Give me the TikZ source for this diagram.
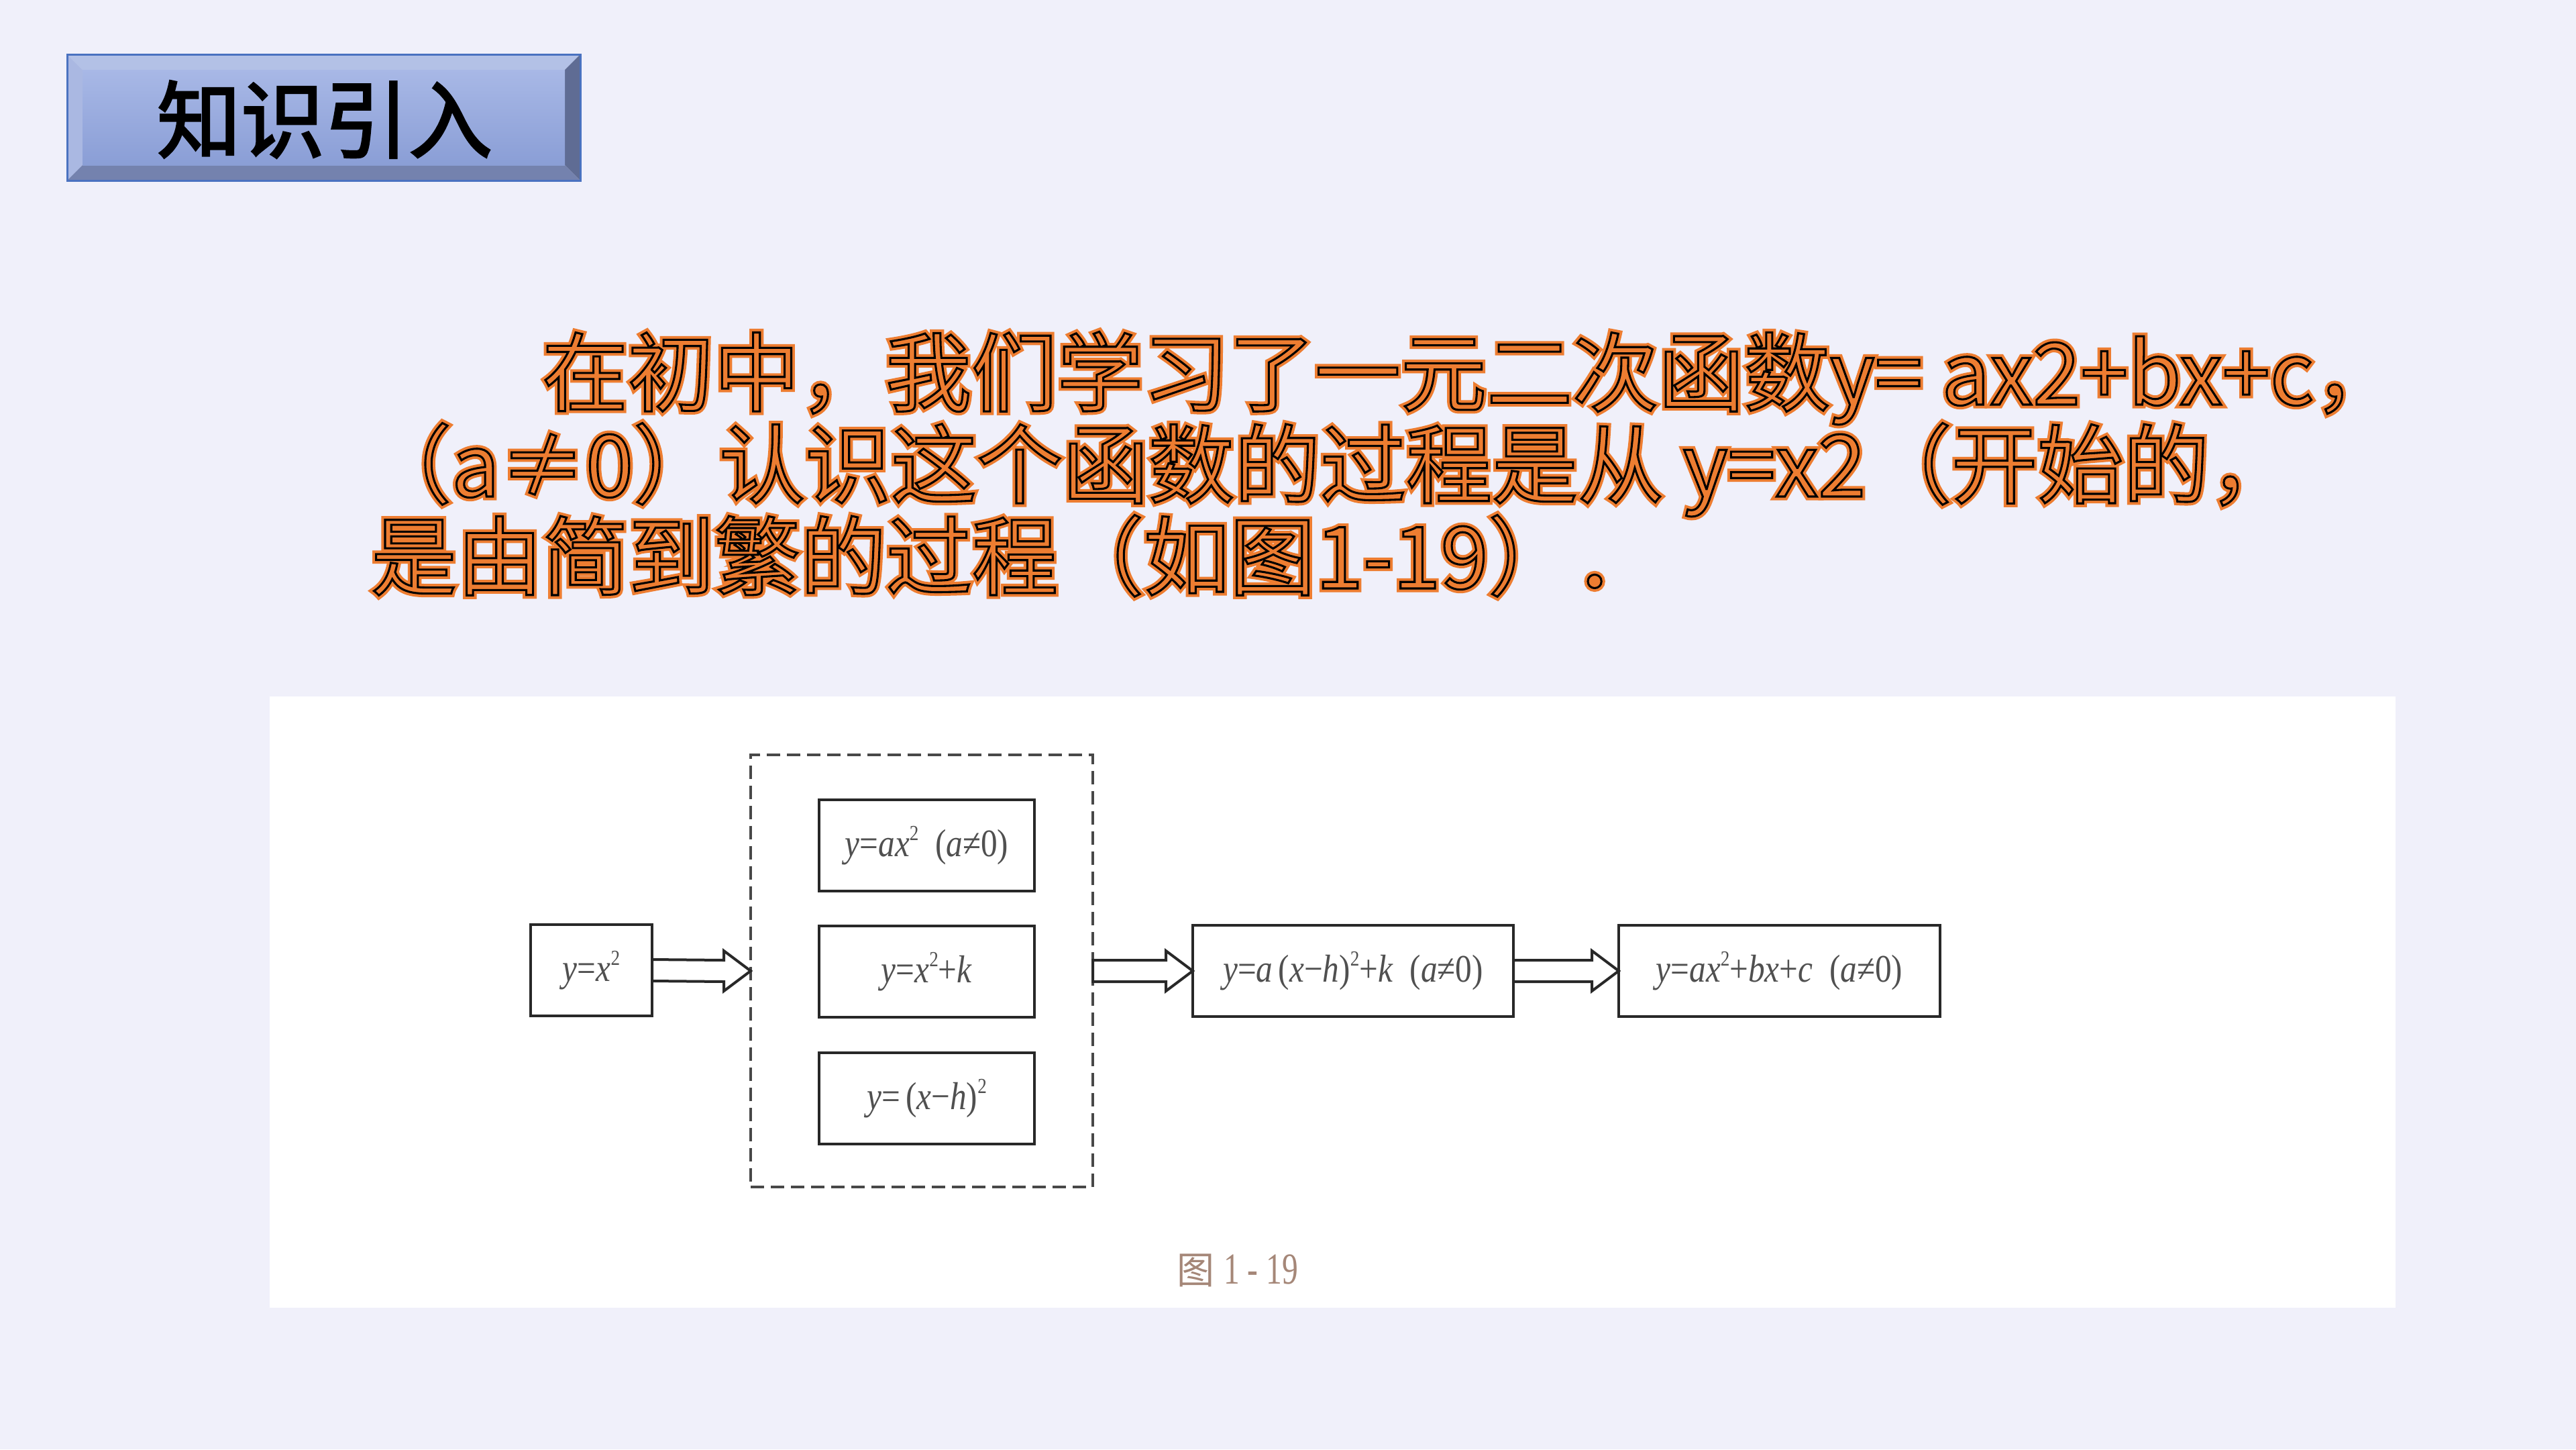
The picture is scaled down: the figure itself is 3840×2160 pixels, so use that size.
\documentclass[tikz,border=0pt]{standalone}
\usepackage{fontspec}
\usepackage{graphicx}
\setmainfont{Liberation Serif}
\newfontfamily\cjk{Noto Sans CJK SC}
\newfontfamily\cjktitle{Noto Sans CJK SC}[FakeBold=2.5]
\newfontfamily\cjkhalo{Noto Sans CJK SC}[FakeBold=8.6]
\newfontfamily\cjkedge{Noto Sans CJK SC}[FakeBold=2.4]
\definecolor{bgC}{RGB}{240,240,250}
\definecolor{orangeC}{RGB}{237,125,49}
\definecolor{tTop}{RGB}{179,193,230}
\definecolor{tLeft}{RGB}{170,184,226}
\definecolor{tBot}{RGB}{116,130,174}
\definecolor{tRight}{RGB}{95,108,148}
\definecolor{tFaceA}{RGB}{168,184,230}
\definecolor{tFaceB}{RGB}{138,158,214}
\definecolor{tEdge}{RGB}{74,114,192}
\definecolor{boxC}{RGB}{40,40,40}
\definecolor{formC}{RGB}{80,80,80}
\definecolor{capC}{RGB}{165,135,120}
\newcommand\fm[1]{\scalebox{0.85}[1]{#1}}
\newcommand\sq{\raisebox{0.42em}{\fontsize{32}{32}\selectfont 2}}
\newcommand\glowline[3]{%
  \node[ptext,font=\cjkhalo\fontsize{128}{128}\selectfont,name=#1h] at (#2) {#3};%
  \node[ptext,font=\cjkedge\fontsize{128}{128}\selectfont,name=#1] at (#2) {\special{pdf:code 0 0 0 RG}#3};}
\begin{document}
\begin{tikzpicture}[x=1pt,y=-1pt,
  ptext/.style={anchor=base west,inner sep=0pt,outer sep=0pt,text=orangeC},
  fbox/.style={draw=boxC,line width=4pt,fill=white,inner sep=0pt,outer sep=0pt,minimum height=136pt,
    text=formC,font=\fontsize{58}{58}\selectfont},
  harrow/.style={draw=boxC,line width=4pt,fill=white,line join=miter},
  dbox/.style={draw=boxC!85,line width=4pt,dash pattern=on 20pt off 10pt,inner sep=0pt,outer sep=0pt}]
\useasboundingbox (0,0) rectangle (3840,2160);
\fill[bgC] (0,0) rectangle (3840,2160);
% title bevel box
\fill[tTop] (100,81) -- (865,81) -- (842,104) -- (123,104) -- cycle;
\fill[tLeft] (100,81) -- (123,104) -- (123,246) -- (100,269) -- cycle;
\fill[tBot] (100,269) -- (123,246) -- (842,246) -- (865,269) -- cycle;
\fill[tRight] (865,81) -- (865,269) -- (842,246) -- (842,104) -- cycle;
\shade[top color=tFaceA,bottom color=tFaceB] (123,104) rectangle (842,246);
\draw[tEdge,line width=3pt] (100,81) rectangle (865,269);
\node[font=\cjktitle\fontsize{125}{125}\selectfont,text=black,inner sep=0pt] (title) at (484,178) {知识引入};
% orange paragraph
\coordinate (p1) at (808,603);
\coordinate (p2) at (545,740);
\coordinate (p3) at (553,877);
\glowline{l1}{p1}{在初中，我们学习了一元二次函数y= ax2+bx+c，}
\glowline{l2}{p2}{（a≠0）认识这个函数的过程是从 y=x2（开始的，}
\glowline{l3}{p3}{是由简到繁的过程（如图1-19）．}
% figure panel
\fill[white] (402,1038) rectangle (3571,1949);
\node[fbox,minimum width=181pt] (b1) at (881.5,1446) {\fm{\textit{y}=\textit{x}\sq}};
\node[dbox,minimum width=510pt,minimum height=644pt] (grp) at (1374,1447) {};
\node[fbox,minimum width=321pt] (b2a) at (1381.5,1260) {\fm{\textit{y}=\textit{ax}\sq\hspace{0.5em}(\textit{a}≠0)}};
\node[fbox,minimum width=321pt] (b2b) at (1381.5,1448) {\fm{\textit{y}=\textit{x}\sq+\textit{k}}};
\node[fbox,minimum width=321pt] (b2c) at (1381.5,1637) {\fm{\textit{y}=\,(\textit{x}−\textit{h})\sq}};
\node[fbox,minimum width=478pt] (b4) at (2017,1447) {\fm{\textit{y}=\textit{a}\,(\textit{x}−\textit{h})\sq+\textit{k}\hspace{0.5em}(\textit{a}≠0)}};
\node[fbox,minimum width=479pt] (b5) at (2652.5,1447) {\fm{\textit{y}=\textit{ax}\sq+\textit{bx}+\textit{c}\hspace{0.5em}(\textit{a}≠0)}};
% hollow arrows
\draw[harrow] ([yshift=-16pt]b1.east) -- ([xshift=-40pt,yshift=-16pt]grp.west) -- ([xshift=-40pt,yshift=-30pt]grp.west)
  -- (grp.west) -- ([xshift=-40pt,yshift=30pt]grp.west) -- ([xshift=-40pt,yshift=16pt]grp.west) -- ([yshift=16pt]b1.east) -- cycle;
\draw[harrow] ([yshift=-16pt]grp.east) -- ([xshift=-40pt,yshift=-16pt]b4.west) -- ([xshift=-40pt,yshift=-30pt]b4.west)
  -- (b4.west) -- ([xshift=-40pt,yshift=30pt]b4.west) -- ([xshift=-40pt,yshift=16pt]b4.west) -- ([yshift=16pt]grp.east) -- cycle;
\draw[harrow] ([yshift=-16pt]b4.east) -- ([xshift=-40pt,yshift=-16pt]b5.west) -- ([xshift=-40pt,yshift=-30pt]b5.west)
  -- (b5.west) -- ([xshift=-40pt,yshift=30pt]b5.west) -- ([xshift=-40pt,yshift=16pt]b5.west) -- ([yshift=16pt]b4.east) -- cycle;
% caption
\node[text=capC,font=\fontsize{66}{66}\selectfont,inner sep=0pt] (cap) at (1845,1893) {{\cjk\fontsize{56}{56}\selectfont 图}\hspace{0.2em}\scalebox{0.72}[1]{1 - 19}};
\end{tikzpicture}
\end{document}
